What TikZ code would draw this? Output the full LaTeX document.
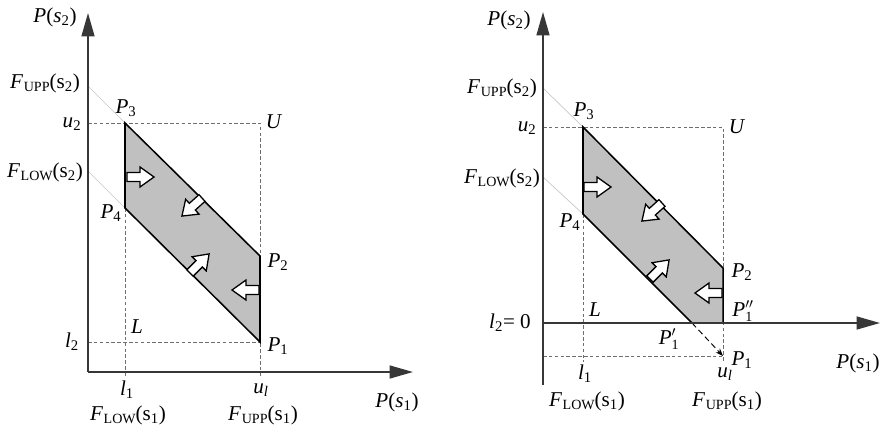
\documentclass[tikz,border=0pt]{standalone}
\usepackage{fontspec}
\setmainfont{Liberation Serif}
\usetikzlibrary{arrows.meta, positioning}
\definecolor{regiongray}{RGB}{192,192,192}
\definecolor{axisdark}{RGB}{55,55,55}
\definecolor{guidegray}{RGB}{110,110,110}
\definecolor{faintgray}{RGB}{200,200,200}
\newcommand{\Fsub}[2]{\textit{F}\kern0.5pt\raisebox{-0.35ex}{\fontsize{12}{12}\selectfont #1}(s\textsubscript{#2})}
\newcommand{\Pn}[1]{\textit{P}\textsubscript{#1}}
\newcommand{\Pprime}[1]{\textit{P}$^{#1}_{\mbox{\fontsize{12}{12}\selectfont 1}}$}
\tikzset{
  axis/.style={line width=1.6pt, color=axisdark, -{Triangle[length=20pt, width=11pt]}},
  guide/.style={dash pattern=on 3pt off 2pt, line width=0.6pt, color=guidegray},
  faint/.style={line width=0.6pt, color=faintgray},
  region/.style={draw=black, fill=regiongray, line width=1.3pt, line join=miter},
  lbl/.style={inner sep=0pt, font=\fontsize{18}{21}\selectfont},
  push/.pic={\draw[fill=white, line width=1.1pt, line join=miter] (0,-4.5) -- (13,-4.5) -- (13,-10) -- (27,0) -- (13,10) -- (13,4.5) -- (0,4.5) -- cycle;}
}
\begin{document}
\begin{tikzpicture}[x=0.3mm, y=0.3mm]
  \useasboundingbox (0,0) rectangle (886,427);

  % ---------- left: feasible region inside the box ----------
  \coordinate (aO) at (88,55);
  \coordinate (aYtop) at (88,414);
  \coordinate (aXend) at (413,55);
  \coordinate (aP3) at (125,304);
  \coordinate (aP4) at (125,219);
  \coordinate (aP2) at (260,171);
  \coordinate (aP1) at (260,85);
  \coordinate (aU) at (260,304);
  \coordinate (aU2) at (88,304);
  \coordinate (aL2) at (88,85);
  \coordinate (aL1) at (125,50);
  \coordinate (aU1) at (260,50);
  \coordinate (aFu) at (88,341);
  \coordinate (aFl) at (88,256);

  % constraint lines
  \draw[faint] (aFu) -- (aP3);
  \draw[faint] (aFl) -- (aP4);
  % box
  \draw[guide] (aU2) -- (aU) -- (aU1);
  \draw[guide] (aL2) -- (aP1);
  \draw[guide] (aP4) -- (aL1);
  % region
  \draw[region] (aP3) -- (aP2) -- (aP1) -- (aP4) -- cycle;
  % axes
  \draw[axis] (aO) -- (aYtop);
  \draw[axis] (aO) -- (aXend);
  % pushing arrows
  \pic[rotate=0] at (127,250) {push};
  \pic[rotate=222] at (202,229) {push};
  \pic[rotate=45] at (190,154) {push};
  \pic[rotate=180] at (259,137) {push};

  % labels
  \node[lbl] (aps2) at (55,410) {\textit{P}(\textit{s}\textsubscript{2})};
  \node[lbl] (afu2) at (45,344) {\Fsub{UPP}{2}};
  \node[lbl] (afl2) at (45,255) {\Fsub{LOW}{2}};
  \node[lbl] (au2) at (72,303) {\textit{u}\textsubscript{2}};
  \node[lbl] (al2) at (72,85) {\textit{l}\textsubscript{2}};
  \node[lbl] (alP3) at (126,319) {\Pn{3}};
  \node[lbl] (alP4) at (111,214) {\Pn{4}};
  \node[lbl] (alP2) at (278,165) {\Pn{2}};
  \node[lbl] (alP1) at (278,81) {\Pn{1}};
  \node[lbl] (alU) at (274,305) {\textit{U}};
  \node[lbl] (alL) at (137,100) {\textit{L}};
  \node[lbl] (al1) at (127,37) {\textit{l}\textsubscript{1}};
  \node[lbl] (au1) at (261,37) {\textit{u}\textsubscript{\textit{l}}};
  \node[lbl] (afl1) at (128,12) {\Fsub{LOW}{1}};
  \node[lbl] (afu1) at (263,12) {\Fsub{UPP}{1}};
  \node[lbl] (aps1) at (397,25) {\textit{P}(\textit{s}\textsubscript{1})};

  % ---------- right: region cut by the axis l2 = 0 ----------
  \coordinate (bO) at (543,104);
  \coordinate (bYbot) at (543,42);
  \coordinate (bYtop) at (543,415);
  \coordinate (bXend) at (880,104);
  \coordinate (bP3) at (583,300);
  \coordinate (bP4) at (583,213);
  \coordinate (bP2) at (723,159);
  \coordinate (bP1b) at (723,104);
  \coordinate (bP1a) at (692,104);
  \coordinate (bP1) at (723,71);
  \coordinate (bU) at (723,300);
  \coordinate (bU2) at (543,300);
  \coordinate (bL2) at (543,71);
  \coordinate (bL1) at (583,65);
  \coordinate (bU1) at (723,65);
  \coordinate (bFu) at (543,339);
  \coordinate (bFl) at (543,250);

  % constraint lines
  \draw[faint] (bFu) -- (bP3);
  \draw[faint] (bFl) -- (bP4);
  % box
  \draw[guide] (bU2) -- (bU) -- (bU1);
  \draw[guide] (bL2) -- (bP1);
  \draw[guide] (bP4) -- (bL1);
  \draw[guide, color=black, line width=0.8pt, dash pattern=on 5pt off 3pt, -Stealth] (bP1a) -- (bP1);
  % region
  \draw[region] (bP3) -- (bP2) -- (bP1b) -- (bP1a) -- (bP4) -- cycle;
  % axes
  \draw[axis] (bYbot) -- (bYtop);
  \draw[axis] (bO) -- (bXend);
  % pushing arrows
  \pic[rotate=0] at (584,240) {push};
  \pic[rotate=222] at (662,224) {push};
  \pic[rotate=45] at (650,148) {push};
  \pic[rotate=180] at (722,134) {push};

  % labels
  \node[lbl] (bps2) at (509,407) {\textit{P}(\textit{s}\textsubscript{2})};
  \node[lbl] (bfu2) at (502,339) {\Fsub{UPP}{2}};
  \node[lbl] (bfl2) at (502,249) {\Fsub{LOW}{2}};
  \node[lbl] (bu2) at (527,299) {\textit{u}\textsubscript{2}};
  \node[lbl] (bl2) at (510,104) {\textit{l}\textsubscript{2}= 0};
  \node[lbl] (blP3) at (584,316) {\Pn{3}};
  \node[lbl] (blP4) at (570,205) {\Pn{4}};
  \node[lbl] (blP2) at (742,155) {\Pn{2}};
  \node[lbl] (blP1b) at (743,116) {\Pprime{\prime\prime}};
  \node[lbl] (blP1a) at (669,88) {\Pprime{\prime}};
  \node[lbl] (blP1) at (742,67) {\Pn{1}};
  \node[lbl] (blU) at (737,300) {\textit{U}};
  \node[lbl] (blL) at (595,117) {\textit{L}};
  \node[lbl] (bl1) at (585,53) {\textit{l}\textsubscript{1}};
  \node[lbl] (bu1) at (725,53) {\textit{u}\textsubscript{\textit{l}}};
  \node[lbl] (bfl1) at (587,26) {\Fsub{LOW}{1}};
  \node[lbl] (bfu1) at (727,26) {\Fsub{UPP}{1}};
  \node[lbl] (bps1) at (858,64) {\textit{P}(\textit{s}\textsubscript{1})};
\end{tikzpicture}
\end{document}
